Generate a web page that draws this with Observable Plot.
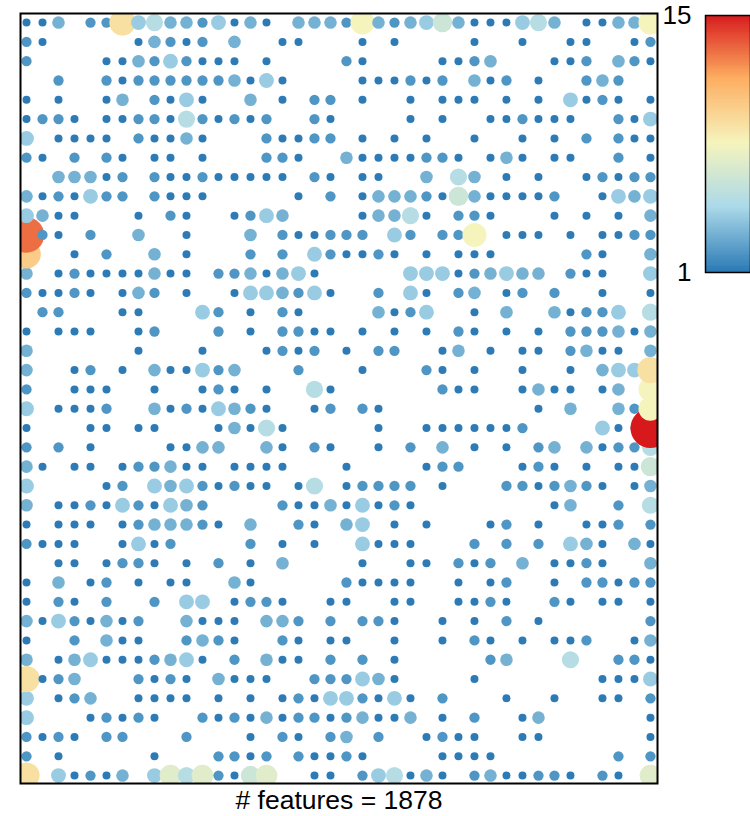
<!DOCTYPE html>
<html>
<head>
<meta charset="utf-8">
<script src="https://cdn.jsdelivr.net/npm/d3@7"></script>
<script src="https://cdn.jsdelivr.net/npm/@observablehq/plot@0.6"></script>
<style>
html,body{margin:0;padding:0;background:#fff;overflow:hidden}
#wrap{position:relative;width:750px;height:816px;overflow:hidden;font-family:"Liberation Sans",Arial,sans-serif}
#wrap svg{position:absolute;top:0;font-family:"Liberation Sans",Arial,sans-serif}
</style>
</head>
<body>
<div id="wrap"></div>
<script>
// one string per row, top to bottom; one character per column: "." = empty, otherwise base-36 value
const leftColumns = [
"113.229453324131.333","21.....13212.3..11..","2....113242111.1....","..2..212222223141...",
"1.1..13.2141..3.1.22","1221.11221521212..21","4.1111.21131...21122","21.2.21.11.1...221..",
"..33312.211211111.21","3121422.2111.....1.2","4311...1.21..1243...","d21.2..3..1...3.2112",
"a..1.2..3.1...2.2.42","3.121111311.2231341.","21121.132.1..1443241",".22...11...42.1.21..",
"1.111..12...2.1.2211","3......1...1...1212.","3..12.1.311423...2..","2..111..1..121.1..51",
"4.1112..31214321..12","1...11.11...13151...","2.2.1....1133..31.21","31.11.122311.1111...",
"4....12.43421211.15.","3.1121421432....2113","1.111.1233321.3..21.","2111..1412....2.1.1.",
"..11.1221.1.2.1.3...","1.3.12.1.11..31.....","1.21.2..2.44.1221..1","31421312..3111.332.2",
"1..2.311..2321..21.1","3.1341112341.2.311.2","9123...2121.3111..22","4.123..1111.1.1.1214",
"4...12121..212131221","2121.22...2...1.21.2","2.1.....1...2212.211","9.41213.47572167..11"
];
const rightColumns = [
"28323463111453.11338",".1.1....1..1..11..12","21....1123...112.321",".111212.312.1..232..",
".1..1.111.1.1.4121.1","....1.1..112111..214",".1.1.1..1..1.1.2.211","31111221.131.11..2.1",
".11..3.53.1.1..12122",".1333216311112..1434",".13351.221...1.1.1.3","22.42.228.111.1.1122",
"1121.1.111.....21..3","....444123433.211..4","..2.41.23.12.2..1..1","..3124..1.3..31224.5",
".1.1.1.21.1.1.222313","1.22..13.1.11.2311.3",".1...21.1..1..1.3449","......211..1311.13.8",
".21.........1.3..328","..1..1111112....411f","..1.2.3.1.1.23.31225","1....122...121.1.116",
"12222.1...2212321.13","14121........13..2.5","34.1.1...12.1..112.2",".4111...2.2.2.431.31",
".1..11.212.3.1121..3","21111..1.12..1.22122","1..11..1121..21.11.1",".221..1.1.2.1......2",
"1..1..1.21.1.112..13",".2.1.....23...5..221","2431....1.......1114","42141.2...1..1..11.2",
"23113.1.2..13......1","3.2..1211..11......1","21....1111.......2.2",".245131.2311221.21.7"
];
const colorStops = [1, 4.5, 8, 11.5, 15];
const colorRange = ["#2c7bb6", "#abd9e9", "#f6f4bd", "#fdae61", "#d7191c"];
const barTicks = [1, 15];
const captionText = "# features = 1878";

// drawn from the bottom row upward, left to right
const cells = [];
for (let row = leftColumns.length - 1; row >= 0; row--) {
  const line = leftColumns[row] + rightColumns[row];
  for (let col = 0; col < line.length; col++) {
    if (line[col] !== ".") cells.push({row, col, value: parseInt(line[col], 36)});
  }
}
const colorScale = {type: "linear", domain: colorStops, range: colorRange};

const main = Plot.plot({
  width: 750, height: 816,
  marginLeft: 20, marginRight: 93, marginTop: 13, marginBottom: 33,
  x: {domain: [-0.375, 39.44], axis: null},
  y: {domain: [39.41, -0.47], axis: null},
  r: {type: "linear", domain: [1, 15], range: [4, 20]},
  color: colorScale,
  marks: [
    Plot.dot(cells, {x: "col", y: "row", r: "value", fill: "value", sort: null, clip: true}),
    Plot.frame({stroke: "#000", strokeWidth: 2}),
    Plot.text([captionText], {frameAnchor: "bottom", dy: 25, fontSize: 26.5, fill: "#000"})
  ]
});
main.style.left = "0px";
main.style.overflow = "visible";

const barValues = d3.range(1, 15, 0.1);
const bar = Plot.plot({
  width: 100, height: 816,
  marginLeft: 55, marginRight: 0, marginTop: 15, marginBottom: 544,
  x: {domain: [0, 1], axis: null},
  y: {type: "linear", domain: [1, 15], axis: null},
  color: colorScale,
  marks: [
    Plot.rect(barValues, {x1: 0, x2: 1, y1: d => d, y2: d => d + 0.1, fill: d => d, shapeRendering: "crispEdges"}),
    Plot.frame({stroke: "#000", strokeWidth: 1.5}),
    Plot.axisY({ticks: barTicks, tickSize: 0, tickPadding: 14, fontSize: 26, label: null, tickFormat: d => String(d), fill: "#000"})
  ]
});
bar.style.left = "650px";
bar.style.overflow = "visible";

const wrap = document.getElementById("wrap");
wrap.append(main, bar);
</script>
</body>
</html>
